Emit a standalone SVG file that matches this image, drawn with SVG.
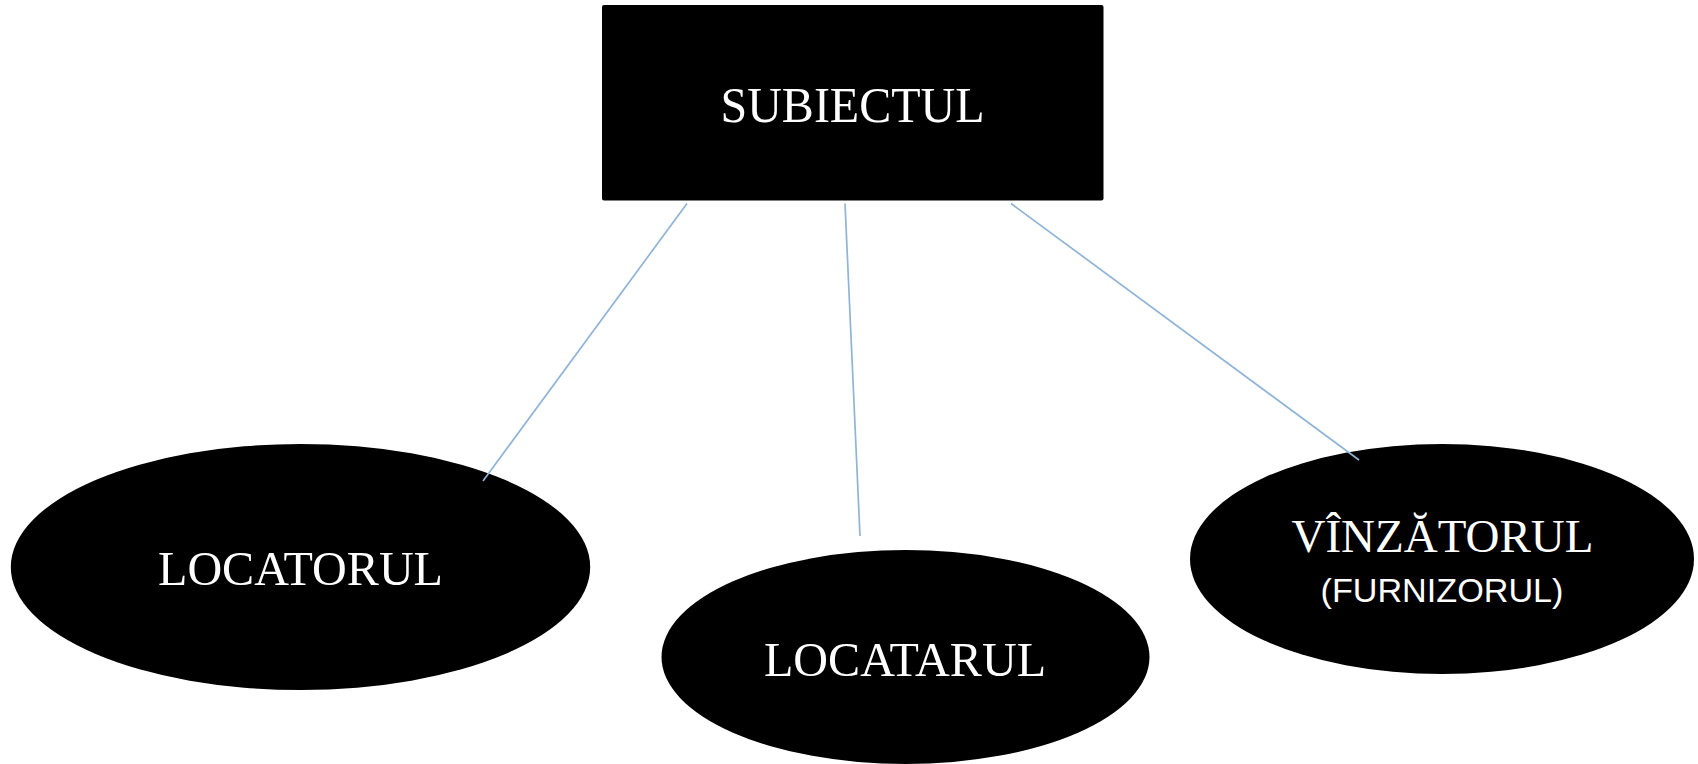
<svg xmlns="http://www.w3.org/2000/svg" width="1698" height="764" viewBox="0 0 1698 764">
<style>
.node{fill:#000;}
.serif{font-family:"Liberation Serif","Times New Roman",serif;fill:#fff;text-anchor:middle;}
.sans{font-family:"Liberation Sans",Arial,sans-serif;fill:#fff;text-anchor:middle;}
.conn{stroke:#90b4d6;stroke-width:1.7;fill:none;}
</style>
<rect width="1698" height="764" fill="#fff"/>
<g id="subiectul">
<rect class="node" x="602" y="5" width="501.5" height="195.5" rx="2"/>
<text class="serif" x="852.5" y="122" font-size="50" textLength="264" lengthAdjust="spacingAndGlyphs">SUBIECTUL</text>
</g>
<g id="locatorul">
<ellipse class="node" cx="300.5" cy="567" rx="289.7" ry="123"/>
<text class="serif" x="300.5" y="585" font-size="48" textLength="285" lengthAdjust="spacingAndGlyphs">LOCATORUL</text>
</g>
<g id="locatarul">
<ellipse class="node" cx="905.5" cy="657" rx="244" ry="107"/>
<text class="serif" x="905" y="676" font-size="48" textLength="282" lengthAdjust="spacingAndGlyphs">LOCATARUL</text>
</g>
<g id="vinzatorul">
<ellipse class="node" cx="1442" cy="559" rx="252" ry="115"/>
<text class="serif" x="1442.5" y="552" font-size="47" textLength="302" lengthAdjust="spacingAndGlyphs">VÎNZĂTORUL</text>
<text class="sans" x="1442" y="602" font-size="33" textLength="243" lengthAdjust="spacingAndGlyphs">(FURNIZORUL)</text>
</g>
<g id="connectors">
<line class="conn" x1="687" y1="203.5" x2="483" y2="481"/>
<line class="conn" x1="845" y1="203.5" x2="860" y2="536"/>
<line class="conn" x1="1011" y1="203.5" x2="1359" y2="460"/>
</g>
</svg>
